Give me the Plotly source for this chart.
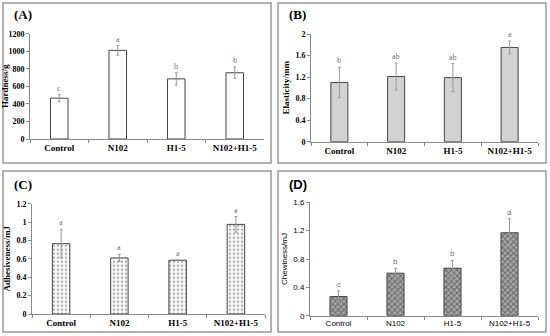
import plotly.graph_objects as go

categories = ["Control", "N102", "H1-5", "N102+H1-5"]

hardness = [465, 1010, 685, 755]
hardness_err = [40, 55, 70, 65]
hardness_letters = ["c", "a", "b", "b"]

elasticity = [1.10, 1.21, 1.19, 1.75]
elasticity_err = [0.28, 0.25, 0.26, 0.12]
elasticity_letters = ["b", "ab", "ab", "a"]

adhesiveness = [0.765, 0.61, 0.585, 0.975]
adhesiveness_err = [0.155, 0.04, 0.005, 0.085]
adhesiveness_letters = ["a", "a", "a", "a"]

chewiness = [0.27, 0.60, 0.67, 1.17]
chewiness_err = [0.08, 0.07, 0.11, 0.20]
chewiness_letters = ["c", "b", "b", "a"]

W, H = 550, 336
def px(x): return x / W
def py(y): return 1 - y / H

SERIF = "Liberation Serif"
SANS = "Liberation Sans"

panels = [
    dict(vals=hardness, err=hardness_err, letters=hardness_letters, title="Hardness/g",
         label="(A)", font=SERIF, xd=[px(30), px(264)], yd=[py(139), py(33.7)],
         rng=[0, 1200], dtick=200, box=[3, 3, 271, 163], lab=(12, 15),
         pattern=dict(shape="", bgcolor="white")),
    dict(vals=elasticity, err=elasticity_err, letters=elasticity_letters, title="Elasticity/mm",
         label="(B)", font=SERIF, xd=[px(311), px(538)], yd=[py(141.7), py(34)],
         rng=[0, 2], dtick=0.4, box=[278, 3, 546, 163], lab=(287, 15),
         pattern=dict(shape="|", fgcolor="#9a9a9a", bgcolor="#e0e0e0", size=2, solidity=0.4)),
    dict(vals=adhesiveness, err=adhesiveness_err, letters=adhesiveness_letters, title="Adhesiveness/mJ",
         label="(C)", font=SERIF, xd=[px(32), px(265)], yd=[py(314), py(203.7)],
         rng=[0, 1.2], dtick=0.2, box=[3, 171, 271, 332], lab=(12, 184),
         pattern=dict(shape=".", fgcolor="#666666", bgcolor="#fafafa", size=4, solidity=0.3)),
    dict(vals=chewiness, err=chewiness_err, letters=chewiness_letters, title="Chewiness/mJ",
         label="(D)", font=SANS, xd=[px(310), px(538)], yd=[py(315.7), py(202.3)],
         rng=[0, 1.6], dtick=0.4, box=[278, 171, 546, 332], lab=(287, 184),
         pattern=dict(shape="x", fgcolor="#2a2a2a", bgcolor="#a8a8a8", size=4, solidity=0.45)),
]

fig = go.Figure()
shapes = []
annotations = []
layout = {}

for i, p in enumerate(panels):
    n = "" if i == 0 else str(i + 1)
    xa, ya = "x" + n, "y" + n
    bold = "bold" if p["font"] == SERIF else "normal"
    fig.add_trace(go.Bar(
        x=categories, y=p["vals"], xaxis=xa, yaxis=ya, width=0.3,
        marker=dict(color="white" if p["pattern"]["shape"] == "" else p["pattern"]["bgcolor"],
                    line=dict(color="#444444", width=1), pattern=p["pattern"]),
        error_y=dict(type="data", array=p["err"], visible=True, color="#999999",
                     thickness=1, width=1.5),
        showlegend=False,
    ))
    layout["xaxis" + n] = dict(
        domain=p["xd"], anchor=ya, type="category", showgrid=False, showline=True,
        linecolor="#888888", linewidth=1, ticks="outside", tickson="boundaries",
        ticklen=3, tickcolor="#888888", automargin=False,
        tickfont=dict(family=p["font"], size=8 if p["font"] == SANS else 9, color="black", weight=bold),
        fixedrange=True,
    )
    layout["yaxis" + n] = dict(
        domain=p["yd"], anchor=xa, range=p["rng"], dtick=p["dtick"], showgrid=False,
        showline=True, linecolor="#888888", linewidth=1, ticks="outside", ticklen=3,
        tickcolor="#888888", zeroline=False, automargin=False,
        tickfont=dict(family=p["font"], size=8, color="black", weight=bold),
        title=dict(text=p["title"], standoff=4,
                   font=dict(family=p["font"], size=9 if p["font"] == SERIF else 8,
                             color="black", weight=bold)),
    )
    x0, y0, x1, y1 = p["box"]
    shapes.append(dict(type="rect", xref="paper", yref="paper", x0=px(x0), x1=px(x1),
                       y0=py(y1), y1=py(y0), line=dict(color="#999999", width=1.5)))
    annotations.append(dict(text=p["label"], xref="paper", yref="paper", x=px(p["lab"][0]),
                            y=py(p["lab"][1]), xanchor="left", yanchor="middle", showarrow=False,
                            font=dict(family=p["font"], size=13, color="black", weight="bold")))
    for c, v, e, l in zip(categories, p["vals"], p["err"], p["letters"]):
        annotations.append(dict(text=l, x=c, y=v + e, xref=xa, yref=ya, yanchor="bottom",
                                showarrow=False,
                                font=dict(family=p["font"], size=8, color="#707070")))

fig.update_layout(
    width=W, height=H, margin=dict(l=0, r=0, t=0, b=0),
    paper_bgcolor="white", plot_bgcolor="white",
    shapes=shapes, annotations=annotations, **layout,
)

fig.write_html("out.html", config={"displayModeBar": False},
               post_script="document.body.style.margin='0';document.body.style.padding='0';")
